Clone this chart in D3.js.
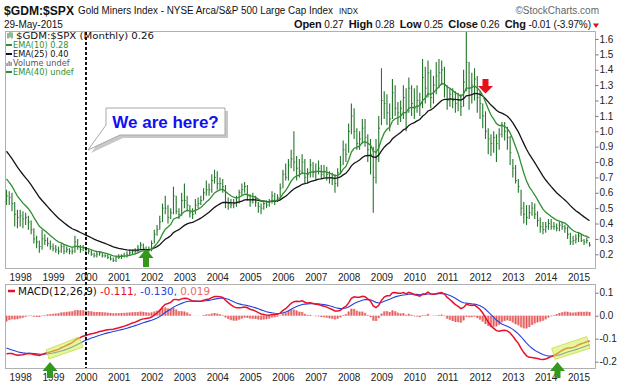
<!DOCTYPE html>
<html><head><meta charset="utf-8">
<script src="https://cdn.jsdelivr.net/npm/d3@7/dist/d3.min.js"></script>
<style>body{margin:0;background:#fff}svg{display:block}</style>
</head><body>
<svg id="c" width="620" height="384"></svg>
<script>
// ---------- data (monthly bars from Aug 1997 to May 2015) ----------
const startMonth = "1997-08";
const closes = [
  0.58,0.57,0.53,0.46,0.44,                                   // 1997 Aug-Dec
  0.45,0.43,0.44,0.41,0.36,0.30,0.28,0.25,0.30,0.29,0.27,0.25, // 1998
  0.24,0.23,0.22,0.25,0.22,0.23,0.22,0.22,0.28,0.25,0.23,0.24, // 1999
  0.21,0.22,0.20,0.19,0.20,0.21,0.19,0.19,0.18,0.17,0.16,0.18, // 2000
  0.18,0.19,0.19,0.20,0.21,0.22,0.22,0.24,0.26,0.24,0.23,0.23, // 2001
  0.27,0.33,0.36,0.41,0.50,0.50,0.44,0.47,0.58,0.48,0.46,0.55, // 2002
  0.55,0.52,0.47,0.46,0.52,0.53,0.55,0.60,0.62,0.62,0.68,0.70, // 2003
  0.66,0.66,0.64,0.54,0.53,0.52,0.53,0.54,0.60,0.62,0.64,0.58, // 2004
  0.54,0.56,0.54,0.51,0.50,0.53,0.52,0.54,0.58,0.55,0.57,0.63, // 2005
  0.72,0.70,0.78,0.82,0.80,0.76,0.74,0.80,0.70,0.72,0.78,0.74, // 2006
  0.74,0.76,0.72,0.74,0.72,0.70,0.69,0.66,0.73,0.78,0.88,0.85, // 2007
  1.00,1.10,1.00,0.92,0.95,1.02,0.96,0.88,0.85,0.70,0.82,1.02, // 2008
  1.20,1.18,1.12,1.08,1.25,1.15,1.12,1.15,1.22,1.12,1.28,1.18, // 2009
  1.15,1.20,1.18,1.35,1.28,1.38,1.22,1.30,1.36,1.38,1.40,1.30, // 2010
  1.20,1.24,1.20,1.18,1.20,1.16,1.32,1.45,1.28,1.30,1.34,1.22, // 2011
  1.18,1.10,1.00,0.95,0.92,0.96,0.92,0.98,1.04,1.00,0.96,0.86, // 2012
  0.76,0.68,0.64,0.50,0.46,0.44,0.47,0.50,0.46,0.42,0.38,0.36, // 2013
  0.38,0.40,0.38,0.38,0.37,0.39,0.38,0.37,0.33,0.28,0.29,0.30, // 2014
  0.32,0.29,0.28,0.29,0.26                                     // 2015 Jan-May
];
const highs = [
  0.62,0.61,0.60,0.54,0.49,
  0.49,0.48,0.47,0.45,0.42,0.37,0.32,0.29,0.36,0.33,0.31,0.29,
  0.27,0.26,0.25,0.27,0.26,0.25,0.24,0.24,0.32,0.30,0.26,0.26,
  0.24,0.24,0.23,0.21,0.22,0.22,0.21,0.20,0.20,0.19,0.18,0.19,
  0.20,0.20,0.21,0.22,0.23,0.23,0.24,0.26,0.28,0.27,0.25,0.25,
  0.29,0.36,0.39,0.45,0.53,0.58,0.52,0.50,0.64,0.58,0.50,0.60,
  0.66,0.58,0.52,0.50,0.56,0.57,0.58,0.63,0.68,0.66,0.72,0.75,
  0.74,0.70,0.69,0.65,0.57,0.56,0.56,0.58,0.62,0.66,0.67,0.65,
  0.59,0.60,0.58,0.54,0.53,0.55,0.55,0.56,0.61,0.60,0.59,0.66,
  0.75,0.79,0.82,0.88,1.00,0.84,0.82,0.85,0.82,0.76,0.82,0.80,
  0.79,0.81,0.78,0.78,0.77,0.74,0.73,0.72,0.76,0.84,0.94,0.92,
  1.05,1.18,1.15,1.02,1.00,1.08,1.08,0.98,0.95,0.90,0.95,1.10,
  1.41,1.26,1.24,1.18,1.34,1.30,1.19,1.20,1.30,1.28,1.35,1.30,
  1.28,1.30,1.25,1.47,1.42,1.46,1.40,1.36,1.45,1.47,1.46,1.42,
  1.30,1.28,1.28,1.26,1.25,1.24,1.40,1.65,1.45,1.38,1.41,1.36,
  1.26,1.18,1.13,1.02,0.98,1.00,0.98,1.02,1.06,1.06,1.03,0.97,
  0.82,0.78,0.69,0.62,0.54,0.52,0.52,0.54,0.53,0.48,0.44,0.41,
  0.41,0.43,0.43,0.41,0.40,0.41,0.41,0.39,0.38,0.34,0.32,0.33,
  0.34,0.33,0.30,0.31,0.28
];
const lows = [
  0.52,0.52,0.48,0.38,0.37,
  0.38,0.37,0.39,0.36,0.33,0.27,0.24,0.21,0.23,0.26,0.25,0.23,
  0.22,0.21,0.20,0.21,0.20,0.21,0.20,0.20,0.21,0.23,0.21,0.22,
  0.20,0.20,0.19,0.18,0.18,0.19,0.18,0.18,0.17,0.16,0.15,0.15,
  0.17,0.17,0.18,0.18,0.19,0.20,0.20,0.21,0.23,0.23,0.22,0.21,
  0.22,0.27,0.32,0.36,0.41,0.46,0.40,0.43,0.46,0.46,0.43,0.45,
  0.50,0.48,0.44,0.43,0.46,0.50,0.52,0.55,0.58,0.58,0.60,0.66,
  0.62,0.62,0.60,0.50,0.49,0.50,0.50,0.51,0.53,0.58,0.60,0.55,
  0.51,0.53,0.51,0.47,0.46,0.49,0.50,0.51,0.53,0.52,0.54,0.57,
  0.63,0.68,0.68,0.76,0.74,0.68,0.70,0.72,0.66,0.66,0.70,0.70,
  0.68,0.72,0.69,0.70,0.68,0.66,0.65,0.60,0.64,0.72,0.78,0.80,
  0.86,0.98,0.95,0.88,0.88,0.92,0.90,0.80,0.72,0.47,0.66,0.80,
  1.04,1.08,1.04,1.00,1.08,1.10,1.04,1.06,1.08,1.00,1.12,1.10,
  1.08,1.12,1.10,1.15,1.18,1.22,1.15,1.18,1.24,1.28,1.30,1.22,
  1.14,1.16,1.15,1.12,1.13,1.10,1.16,1.26,1.14,1.18,1.20,1.12,
  1.08,1.02,0.95,0.85,0.84,0.86,0.80,0.88,0.96,0.94,0.88,0.78,
  0.70,0.66,0.60,0.45,0.40,0.39,0.43,0.45,0.43,0.38,0.34,0.33,
  0.34,0.36,0.36,0.36,0.35,0.35,0.36,0.34,0.30,0.26,0.26,0.27,
  0.28,0.28,0.26,0.27,0.25
];
// indicator values at the first visible bar
const ema10Start = 0.69, ema25Start = 0.87;
const ema12Start = 0.71, ema26Start = 0.875, signalStart = -0.14;
const yearLabels = ["1998","1999","2000","2001","2002","2003","2004","2005","2006","2007","2008","2009","2010","2011","2012","2013","2014","2015"];
const priceTicks = [0.2,0.3,0.4,0.5,0.6,0.7,0.8,0.9,1.0,1.1,1.2,1.3,1.4,1.5,1.6];
const macdTicks = [0.1,0.0,-0.1,-0.2];

// ---------- indicators ----------
function ema(vals, n, start){
  const a = 2/(n+1); let e = start;
  return vals.map((v,i)=> i===0 ? start : (e = e + a*(v-e)));
}
const ema10 = ema(closes,10,ema10Start);
const ema25 = ema(closes,25,ema25Start);
const e12 = ema(closes,12,ema12Start), e26 = ema(closes,26,ema26Start);
const macd = e12.map((v,i)=>v-e26[i]);
const signal = ema(macd,9,signalStart);
const hist = macd.map((v,i)=>v-signal[i]);

// ---------- layout ----------
const svg = d3.select("#c");
const L = 5, R = 595;
const mainTop = 31, mainBot = 268, macdTop = 284, macdBot = 368;
const n = closes.length;
const x = d3.scaleLinear().domain([0,n-1]).range([6.5,589.5]);
const y = d3.scaleLinear().domain([0.2,1.6]).range([254.3,39]);
const ym = d3.scaleLinear().domain([-0.2,0.1]).range([361.7,292.7]);
const yearIdx = yearLabels.map(s => (+s - 1997)*12 - 7);
const FA = "'Liberation Sans', Arial, sans-serif";
const FV = "'DejaVu Sans', Verdana, sans-serif";

// panels
svg.append("rect").attr("x",L+0.5).attr("y",mainTop+0.5).attr("width",R-L).attr("height",mainBot-mainTop)
  .attr("fill","#fff").attr("stroke","#b0b0b0");
svg.append("rect").attr("x",L+0.5).attr("y",macdTop+0.5).attr("width",R-L).attr("height",macdBot-macdTop)
  .attr("fill","#fff").attr("stroke","#b0b0b0");
const defs = svg.append("defs");
defs.append("clipPath").attr("id","cm").append("rect").attr("x",L+1).attr("y",mainTop+1).attr("width",R-L-1).attr("height",mainBot-mainTop-1);
defs.append("clipPath").attr("id","cd").append("rect").attr("x",L+1).attr("y",macdTop+1).attr("width",R-L-1).attr("height",macdBot-macdTop-1);

// header
svg.append("text").attr("x",4).attr("y",15).attr("font-family",FA).attr("font-weight","bold").attr("font-size",12.5)
  .attr("textLength",70).attr("lengthAdjust","spacingAndGlyphs").attr("fill","#111").text("$GDM:$SPX");
svg.append("text").attr("x",78).attr("y",14).attr("font-family",FA).attr("font-size",10)
  .attr("textLength",255).attr("lengthAdjust","spacingAndGlyphs").attr("fill","#111")
  .text("Gold Miners Index - NYSE Arca/S&P 500 Large Cap Index");
svg.append("text").attr("x",339).attr("y",14).attr("font-family",FA).attr("font-size",8.5)
  .attr("textLength",19).attr("lengthAdjust","spacingAndGlyphs").attr("fill","#111").text("INDX");
svg.append("text").attr("x",599).attr("y",14).attr("text-anchor","end").attr("font-family",FA).attr("font-size",10)
  .attr("fill","#666").text("©StockCharts.com");
svg.append("text").attr("x",4).attr("y",28.2).attr("font-family",FA).attr("font-size",10).attr("fill","#111").text("29-May-2015");
const ohlc = svg.append("text").attr("x",294).attr("y",28.2).attr("font-family",FA).attr("font-size",10).attr("fill","#111")
  .attr("textLength",297).attr("lengthAdjust","spacing").style("white-space","pre");
[["Open"," 0.27  "],["High"," 0.28  "],["Low"," 0.25  "],["Close"," 0.26  "],["Chg"," -0.01 (-3.97%)"]].forEach(([k,v])=>{
  ohlc.append("tspan").attr("font-weight","bold").attr("font-size",11).text(k);
  ohlc.append("tspan").text(v);
});
svg.append("path").attr("d","M593,23.5 L599,23.5 L596,28 Z").attr("fill","#e0101a");

// ---------- main panel ----------
const gm = svg.append("g").attr("clip-path","url(#cm)");
const barCol = "#23762a";
gm.selectAll("line.hl").data(closes).join("line").attr("class","hl")
  .attr("x1",(d,i)=>x(i)).attr("x2",(d,i)=>x(i))
  .attr("y1",(d,i)=>y(highs[i])).attr("y2",(d,i)=>y(lows[i]))
  .attr("stroke",barCol).attr("stroke-width",1.1);
gm.selectAll("line.cl").data(closes).join("line").attr("class","cl")
  .attr("x1",(d,i)=>x(i)).attr("x2",(d,i)=>x(i)+1.4)
  .attr("y1",d=>y(d)).attr("y2",d=>y(d)).attr("stroke",barCol).attr("stroke-width",0.8);
const lineM = d3.line().x((d,i)=>x(i)).y(d=>y(d));
gm.append("path").attr("d",lineM(ema25)).attr("fill","none").attr("stroke","#151515").attr("stroke-width",1.3);
gm.append("path").attr("d",lineM(ema10)).attr("fill","none").attr("stroke","#2f8f2f").attr("stroke-width",1.3);

// right axis main
const axM = d3.axisRight(y).tickValues(priceTicks).tickSize(3).tickFormat(d3.format(".1f"));
const gax = svg.append("g").attr("transform",`translate(${R+0.5},0)`).call(axM);
gax.select(".domain").remove();
gax.selectAll("line").attr("stroke","#777");
gax.selectAll("text").attr("font-family",FA).attr("font-size",10).attr("fill","#222").attr("x",4);

// x axes
function xAxis(yBase){
  const ax = d3.axisBottom(x).tickValues(yearIdx).tickSize(0).tickFormat((d,i)=>yearLabels[i]);
  const g = svg.append("g").attr("transform",`translate(0,${yBase})`).call(ax);
  g.select(".domain").remove();
  g.selectAll("text").attr("font-family",FA).attr("font-size",10).attr("fill","#222").attr("dy",0).attr("y",0);
}
xAxis(281); xAxis(381);

// legend main
const lg = svg.append("g").attr("font-family",FV).attr("font-size",8.2);
const lgY = [39,48,57,66,75];
[[8,33,38.5],[10,32,37.5],[12,32.5,38.5]].forEach(([xx,a,b])=>lg.append("line").attr("x1",xx).attr("x2",xx).attr("y1",a).attr("y2",b).attr("stroke",barCol));
lg.append("text").attr("x",16).attr("y",lgY[0]).attr("fill","#111").attr("textLength",138).attr("lengthAdjust","spacingAndGlyphs").text("$GDM:$SPX (Monthly) 0.26");
lg.append("line").attr("x1",6).attr("x2",12).attr("y1",lgY[1]-3).attr("y2",lgY[1]-3).attr("stroke","#2f8f2f").attr("stroke-width",2);
lg.append("text").attr("x",13).attr("y",lgY[1]).attr("fill","#2f8f2f").text("EMA(10) 0.28");
lg.append("line").attr("x1",6).attr("x2",12).attr("y1",lgY[2]-3).attr("y2",lgY[2]-3).attr("stroke","#111").attr("stroke-width",2);
lg.append("text").attr("x",13).attr("y",lgY[2]).attr("fill","#111").text("EMA(25) 0.40");
[[7,3],[9,5],[11,4]].forEach(([xx,h])=>lg.append("rect").attr("x",xx-0.5).attr("y",lgY[3]-h).attr("width",1.2).attr("height",h).attr("fill","#777"));
lg.append("text").attr("x",13).attr("y",lgY[3]).attr("fill","#555").text("Volume undef");
lg.append("line").attr("x1",6).attr("x2",12).attr("y1",lgY[4]-3).attr("y2",lgY[4]-3).attr("stroke","#2f8f2f").attr("stroke-width",2);
lg.append("text").attr("x",13).attr("y",lgY[4]).attr("fill","#2f8f2f").text("EMA(40) undef");

// ---------- MACD panel ----------
const gd = svg.append("g").attr("clip-path","url(#cd)");
const bw = x(1)-x(0);
gd.selectAll("rect.h").data(hist).join("rect").attr("class","h")
  .attr("x",(d,i)=>x(i)-bw/2).attr("width",bw)
  .attr("y",d=>Math.min(ym(0),ym(d))).attr("height",d=>Math.abs(ym(d)-ym(0)))
  .attr("fill","#f4a5a5");
gd.selectAll("line.h").data(hist).join("line").attr("class","h")
  .attr("x1",(d,i)=>x(i)).attr("x2",(d,i)=>x(i)).attr("y1",ym(0)).attr("y2",d=>ym(d))
  .attr("stroke","#e04848").attr("stroke-width",0.9);
const lineD = d3.line().x((d,i)=>x(i)).y(d=>ym(d));
gd.append("path").attr("d",lineD(signal)).attr("fill","none").attr("stroke","#2444e0").attr("stroke-width",1.1);
gd.append("path").attr("d",lineD(macd)).attr("fill","none").attr("stroke","#e8102a").attr("stroke-width",1.5);

const axD = d3.axisRight(ym).tickValues(macdTicks).tickSize(3).tickFormat(d3.format(".1f"));
const gad = svg.append("g").attr("transform",`translate(${R+0.5},0)`).call(axD);
gad.select(".domain").remove();
gad.selectAll("line").attr("stroke","#777");
gad.selectAll("text").attr("font-family",FA).attr("font-size",10).attr("fill","#222").attr("x",4)
  .text(d=>d3.format(".1f")(d).replace("−","-"));

// MACD legend
svg.append("line").attr("x1",8).attr("x2",15).attr("y1",291).attr("y2",291).attr("stroke","#e8102a").attr("stroke-width",2.5);
const ml = svg.append("text").attr("x",18).attr("y",294.5).attr("font-family",FV).attr("font-size",10.2)
  .attr("textLength",192).attr("lengthAdjust","spacingAndGlyphs");
ml.append("tspan").attr("fill","#111").text("MACD(12,26,9) ");
ml.append("tspan").attr("fill","#e8102a").text("-0.111, ");
ml.append("tspan").attr("fill","#2444e0").text("-0.130, ");
ml.append("tspan").attr("fill","#f06a6a").text("0.019");

// ---------- annotations ----------
const hl = svg.append("g").attr("fill","#d6f05c").attr("fill-opacity",0.6).attr("stroke","#c4dc40").attr("stroke-width",0.8);
hl.append("path").attr("d","M46,350 L79,337 L83,347 L49,359 Z");
hl.append("path").attr("d","M551.7,348.3 L586.7,336.7 L590,348.3 L555,359.3 Z");

svg.append("line").attr("x1",86).attr("x2",86).attr("y1",mainTop+1).attr("y2",macdBot)
  .attr("stroke","#111").attr("stroke-width",2).attr("stroke-dasharray","3,2");

svg.append("path").attr("d","M109,111 H228 V138 H123 L91,153 L109,128 Z").attr("fill","#c8c8c8");
svg.append("path").attr("d","M106,108 H225 V135 H120 L88,150 L106,125 Z").attr("fill","#fff").attr("stroke","#a8a8a8").attr("stroke-width",1);
svg.append("text").attr("x",165.5).attr("y",128).attr("text-anchor","middle").attr("font-family",FA).attr("font-weight","bold")
  .attr("font-size",17).attr("fill","#1010f0").text("We are here?");

function upArrow(cx, top, bot){
  svg.append("path").attr("d",`M${cx},${top} L${cx+7.5},${top+9} L${cx+3},${top+9} L${cx+3},${bot} L${cx-3},${bot} L${cx-3},${top+9} L${cx-7.5},${top+9} Z`)
    .attr("fill","#33981c");
}
upArrow(146,249,267);
upArrow(50,362,378);
upArrow(557.5,362,378);
svg.append("path").attr("d","M482.5,79 L488.5,79 L488.5,86 L493,86 L485.5,93.5 L478,86 L482.5,86 Z").attr("fill","#e8101c");
</script>
</body></html>
